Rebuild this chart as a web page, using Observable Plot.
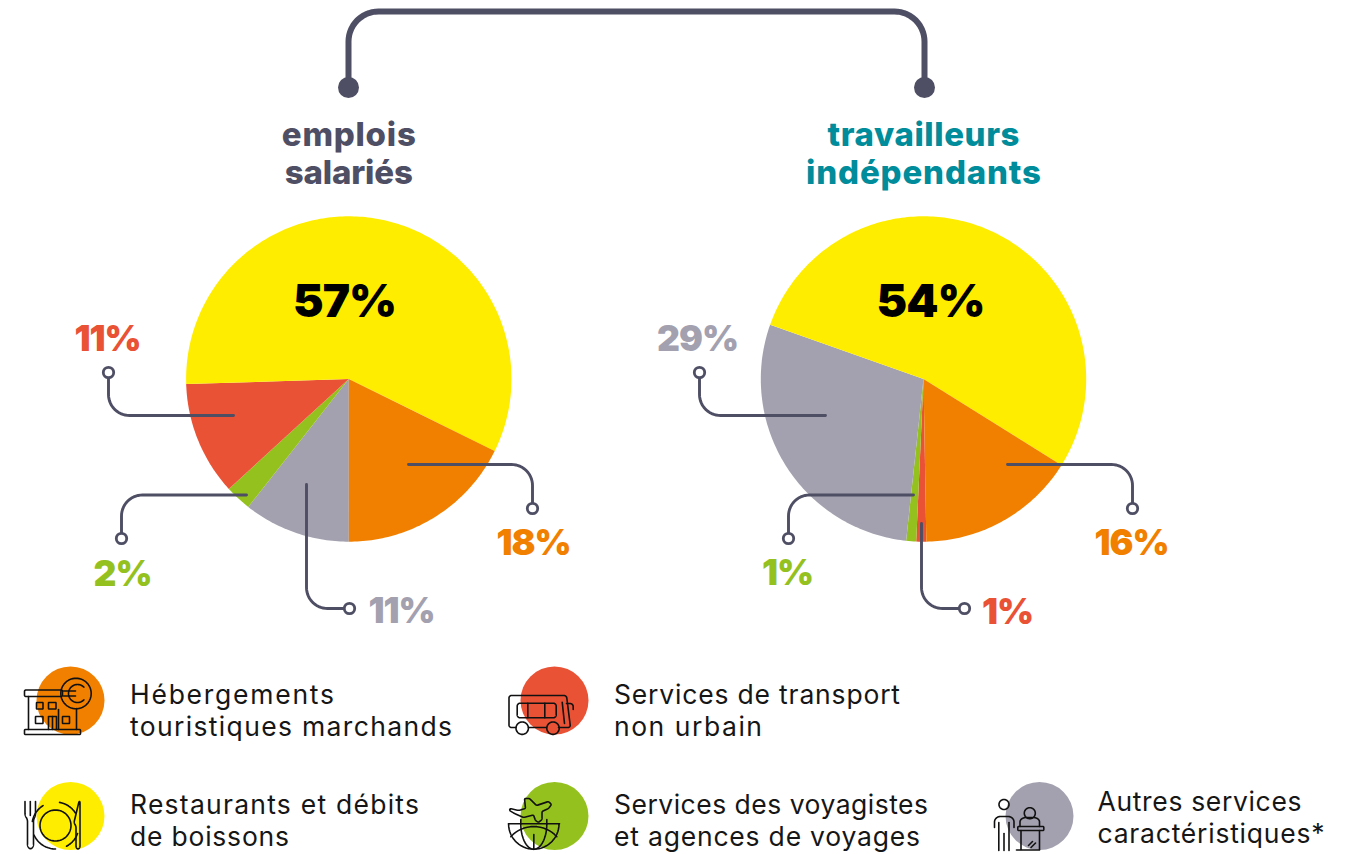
<!DOCTYPE html>
<html lang="fr">
<head>
<meta charset="utf-8">
<script src="https://cdn.jsdelivr.net/npm/d3@7"></script>
<script src="https://cdn.jsdelivr.net/npm/@observablehq/plot@0.6"></script>
<style>
html,body{margin:0;padding:0;background:#fff}
svg{display:block}
.pc{letter-spacing:-1px}
</style>
</head>
<body>
<div id="chart"></div>
<script>
// ---- data ----
const categories = ["heb", "res", "tra", "voy", "aut"];
const categoryColors = ["#F18000", "#FFED00", "#EA5235", "#95C11F", "#A3A1AF"];
const legendLabels = [
  ["Hébergements", "touristiques marchands"],
  ["Restaurants et débits", "de boissons"],
  ["Services de transport", "non urbain"],
  ["Services des voyagistes", "et agences de voyages"],
  ["Autres services", "caractéristiques*"]
];
const pieTitles = [["emplois", "salariés"], ["travailleurs", "indépendants"]];
const salariesOrder = ["aut", "voy", "tra", "res", "heb"];
const salariesShares = [10.6, 2.6, 11.3, 57.8, 17.7];
const salariesLabels = ["11%", "2%", "11%", "57%", "18%"];
const independantsOrder = ["tra", "voy", "aut", "res", "heb"];
const independantsShares = [1, 1, 29, 54, 16];
const independantsLabels = ["1%", "1%", "29%", "54%", "16%"];

// ---- layout ----
const W = 1357, H = 854, DARK = "#4E4E64", TEAL = "#008C9B", INK = "#161616";
const FONT = "Inter, 'Open Sans', sans-serif";
const legendLineWidths = [204, 322, 289, 159, 286, 148, 314, 306, 204, 227];
const titleLineWidths = [134, 128, 192, 235];
const pies = [
  {cx: 348.3, cy: 378.5, r: 162.7, start: 180, order: salariesOrder, values: salariesShares, labels: salariesLabels},
  {cx: 923, cy: 378.5, r: 162.7, start: 179, order: independantsOrder, values: independantsShares, labels: independantsLabels}
];
const bracketPath = [[348, 87], [348, 11], [924, 11], [924, 87]];
const legendPos = [
  {cx: 70, cy: 700, tx: 129.5, ty: 695},
  {cx: 70, cy: 815.5, tx: 129.5, ty: 805},
  {cx: 554, cy: 700, tx: 613.5, ty: 695},
  {cx: 554, cy: 815.5, tx: 613.5, ty: 805},
  {cx: 1039, cy: 815.5, tx: 1097, ty: 802}
];
// callouts: path from the slice to the ring, label position
const callouts = [
  {p: [[408, 464], [532, 464], [532, 508]], pie: 0, cat: "heb", lx: 533, ly: 543.5},
  {p: [[233, 415], [108, 415], [108, 372]], pie: 0, cat: "tra", lx: 107, ly: 339.5},
  {p: [[246, 494.5], [121, 494.5], [121, 538]], pie: 0, cat: "voy", lx: 122, ly: 574.5},
  {p: [[306, 484], [306, 608], [349, 608]], pie: 0, cat: "aut", lx: 401, ly: 611.5},
  {p: [[1007, 464], [1132, 464], [1132, 508]], pie: 1, cat: "heb", lx: 1131, ly: 543.5},
  {p: [[825, 415], [699, 415], [699, 372]], pie: 1, cat: "aut", lx: 697, ly: 339.5},
  {p: [[913, 494.5], [788, 494.5], [788, 538]], pie: 1, cat: "voy", lx: 787, ly: 573.5},
  {p: [[921, 523], [921, 608], [964, 608]], pie: 1, cat: "tra", lx: 1007, ly: 612}
];
const mainLabels = [{pie: 0, cat: "res", x: 344, y: 302}, {pie: 1, cat: "res", x: 930, y: 302}];

// ---- helpers ----
function rounded(pts, r, closed = false) {
  const out = [];
  const n = pts.length;
  for (let i = 0; i < n; i++) {
    const p = pts[i];
    if (!closed && (i === 0 || i === n - 1)) { out.push(p); continue; }
    const a = pts[(i - 1 + n) % n], b = pts[(i + 1) % n];
    const la = Math.hypot(a[0] - p[0], a[1] - p[1]), lb = Math.hypot(b[0] - p[0], b[1] - p[1]);
    const ra = Math.min(r, la / 2), rb = Math.min(r, lb / 2);
    const s = [p[0] + (a[0] - p[0]) * ra / la, p[1] + (a[1] - p[1]) * ra / la];
    const e = [p[0] + (b[0] - p[0]) * rb / lb, p[1] + (b[1] - p[1]) * rb / lb];
    for (let t = 0; t <= 1.0001; t += 1 / 14) {
      const u = 1 - t;
      const w = 0.7071;
      const d = u * u + 2 * u * t * w + t * t;
      out.push([(u * u * s[0] + 2 * u * t * w * p[0] + t * t * e[0]) / d,
                (u * u * s[1] + 2 * u * t * w * p[1] + t * t * e[1]) / d]);
    }
  }
  if (closed) out.push(out[0]);
  return out;
}
const arcPts = (cx, cy, r, a0 = 0, a1 = 360, ry = r) =>
  d3.range(a0, a1 + 0.01, 6).map(a => [cx + r * Math.cos(a * Math.PI / 180), cy + ry * Math.sin(a * Math.PI / 180)]);
const rrect = (x0, y0, x1, y1, r) => rounded([[x0, y0], [x1, y0], [x1, y1], [x0, y1]], r, true);

// ---- slices from the values ----
const sliceRows = [];
pies.forEach((pie, i) => {
  const s = pie.start * Math.PI / 180;
  const arcs = d3.pie().sort(null).startAngle(s).endAngle(s + 2 * Math.PI)(pie.values);
  arcs.forEach((a, j) => {
    const id = `${i}-${j}`, cat = pie.order[j];
    sliceRows.push({id, cat, x: pie.cx, y: pie.cy});
    const steps = Math.max(2, Math.ceil((a.endAngle - a.startAngle) * 180 / Math.PI));
    for (let k = 0; k <= steps; k++) {
      const t = a.startAngle + (a.endAngle - a.startAngle) * k / steps;
      sliceRows.push({id, cat, x: pie.cx + pie.r * Math.sin(t), y: pie.cy - pie.r * Math.cos(t)});
    }
  });
});

const pctText = (pieIndex, cat) => {
  const pie = pies[pieIndex];
  return pie.labels[pie.order.indexOf(cat)];
};
const toRows = (paths) => paths.flatMap((pts, i) => pts.map(([x, y]) => ({i, x, y})));

// ---- connectors ----
const connectorRows = toRows(callouts.map(c => rounded(c.p, 21)));
const bracketRows = toRows([rounded(bracketPath, 30)]);
const rings = callouts.map(c => c.p[2]);

// ---- pictograms (thin line art) ----
const iconPaths = [
  // hotel
  rrect(24, 689.5, 62, 696, 1.5),
  rrect(24, 729, 80, 734, 1),
  [[28, 696], [28, 729]], [[76, 708], [76, 729]],
  arcPts(75.5, 693, 15.2),
  arcPts(77, 693, 9, 45, 315),
  [[63, 690.5], [75, 690.5]], [[63, 695.5], [75, 695.5]],
  rrect(36, 702, 42.5, 708.5, .5), rrect(48, 702, 55.5, 708.5, .5),
  rrect(35, 716, 42.5, 723, .5), rrect(62, 716, 69, 723, .5),
  [[48, 729], [48, 716], [56, 716], [56, 729]], [[52, 716], [52, 729]], [[58, 709], [58, 729]],
  // plate
  rounded([[24.5, 801], [24.5, 815], [27, 819], [27, 846], [30, 849], [33, 846], [33, 819], [35, 815], [35, 801]], 2),
  [[29.8, 801], [29.8, 815]],
  arcPts(55, 825, 23.5, 20, 62), arcPts(55, 825, 23.5, 90, 160), arcPts(55, 825, 23.5, 190, 240), arcPts(55, 825, 23.5, 280, 330),
  arcPts(55, 825, 15.5),
  rounded([[78.5, 801], [73.5, 822], [75.5, 826], [75.5, 847], [77.5, 849], [79.5, 847], [79.5, 801]], 1.5, true),
  // bus
  rounded([[515.5, 727], [508.5, 727], [508.5, 695], [566, 695], [570, 727], [558, 727]], 2.5),
  [[528, 727], [546, 727]],
  arcPts(521.7, 727.7, 6.2), arcPts(552.5, 727.7, 6.2),
  rrect(516.7, 702.7, 555.7, 717.3, 3), [[527.3, 702.7], [527.3, 717.3]], [[544.3, 702.7], [544.3, 717.3]],
  [[561.7, 701.7], [564, 723]], rounded([[566, 703], [572.7, 703], [572.7, 709]], 4),
  // plane and globe
  rounded([[509.5, 808], [518, 810], [525, 808], [524, 798], [529, 798], [536, 805], [548, 801], [551, 804], [548, 808], [541.5, 811], [541.5, 819], [538, 822], [535, 820], [533, 814.5], [523, 817], [514, 813], [509, 810]], 1.2, true),
  arcPts(533.3, 823.5, 25.2, 0, 180),
  [[508, 823.3], [559, 823.3]],
  arcPts(533.3, 857, 31, 222, 318),
  arcPts(533.3, 823.5, 13, 0, 180, 25.2),
  [[533.3, 834], [533.3, 849]],
  [[520.3, 819], [520.3, 823.5]], [[546.3, 819], [546.3, 823.5]],
  // person and desk
  arcPts(1003.5, 804, 5),
  rounded([[994, 827], [994, 816], [1013.5, 816], [1013.5, 827]], 6),
  [[998.3, 822], [998.3, 850]], [[1008.5, 822], [1008.5, 850]], [[1003.5, 833], [1003.5, 850]],
  arcPts(1029.3, 812.7, 5.5),
  rounded([[1019.5, 826], [1019.5, 817], [1039, 817], [1039, 826]], 6),
  rrect(1017.3, 826, 1043.3, 830, 1),
  [[1020.5, 830], [1020.5, 849]], [[1039, 830], [1039, 849]], [[1016, 849.5], [1039, 849.5]],
  [[1028, 845], [1032, 841]], [[1030.5, 847], [1035, 842.5]]
];
const iconRows = toRows(iconPaths);

// ---- text rows ----
const titleRows = pieTitles.flatMap((lines, i) => lines.map((t, j) => ({
  t, x: pies[i].cx, y: 135 + j * 38, c: i ? TEAL : DARK
})));
const legendRows = legendLabels.flatMap((lines, i) => lines.map((t, j) => ({
  t, x: legendPos[i].tx, y: legendPos[i].ty + j * 32
})));
const circleRows = legendPos.map((p, i) => ({...p, cat: categories[i]}));

// ---- plot ----
const chart = Plot.plot({
  width: W, height: H,
  margin: 0,
  x: {domain: [0, W], range: [0, W], axis: null},
  y: {domain: [0, H], range: [0, H], axis: null},
  color: {domain: categories, range: categoryColors},
  style: {background: "#fff"},
  marks: [
    Plot.line(bracketRows, {x: "x", y: "y", z: "i", stroke: DARK, strokeWidth: 6, curve: "linear", strokeLinejoin: "round"}),
    Plot.dot([bracketPath[0], bracketPath[3]], {x: d => d[0], y: d => d[1], r: 10.5, fill: DARK}),
    Plot.text(titleRows, {x: "x", y: "y", text: "t", fill: "c", fontSize: 33, fontWeight: 800, fontFamily: FONT, lineAnchor: "middle", className: "hd"}),

    Plot.line(sliceRows, {x: "x", y: "y", z: "id", fill: "cat", stroke: null, curve: "linear-closed"}),
    Plot.line(connectorRows, {x: "x", y: "y", z: "i", stroke: DARK, strokeWidth: 2.9, curve: "linear"}),
    Plot.dot(rings, {x: d => d[0], y: d => d[1], r: 5.2, fill: "#fff", stroke: DARK, strokeWidth: 2.8}),

    Plot.text(mainLabels, {x: "x", y: "y", text: d => pctText(d.pie, d.cat), fill: "#000", fontSize: 46, fontWeight: 900, fontFamily: FONT, lineAnchor: "middle", className: "pc"}),
    Plot.text(callouts, {x: "lx", y: "ly", text: d => pctText(d.pie, d.cat), fill: "cat", fontSize: 35.5, fontWeight: 900, fontFamily: FONT, lineAnchor: "middle", className: "pc"}),

    Plot.dot(circleRows, {x: "cx", y: "cy", r: 34, fill: "cat"}),
    Plot.line(iconRows, {x: "x", y: "y", z: "i", stroke: "#111", strokeWidth: 1.6, curve: "linear", strokeLinejoin: "round", strokeLinecap: "round"}),
    Plot.text(legendRows, {x: "x", y: "y", text: "t", fill: INK, fontSize: 26.5, fontWeight: 400, fontFamily: FONT, textAnchor: "start", lineAnchor: "middle", className: "lg"})
  ]
});
d3.select(chart).selectAll(".lg text").attr("textLength", (_, i) => legendLineWidths[i]);
d3.select(chart).selectAll(".hd text").attr("textLength", (_, i) => titleLineWidths[i]);
document.getElementById("chart").append(chart);
</script>
</body>
</html>
